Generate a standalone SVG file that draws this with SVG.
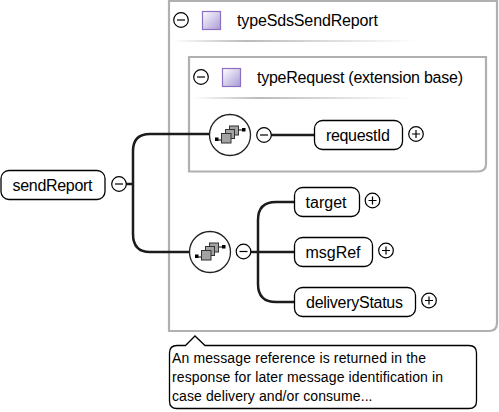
<svg xmlns="http://www.w3.org/2000/svg" width="499" height="412" viewBox="0 0 499 412">
<style>
text{font-family:"Liberation Sans",Arial,sans-serif;fill:#000}
.n{font-size:16px}
.c{font-size:14px}
.box{fill:#fff;stroke:#000;stroke-width:1.3}
.frame{fill:none;stroke:#b0b0b0;stroke-width:2.2}
.btn{fill:#fff;stroke:#000;stroke-width:1.2}
.sym{fill:none;stroke:#000;stroke-width:1.2}
.conn{fill:none;stroke:#1c1c1c;stroke-width:2.5}
.seq{fill:#fff;stroke:#222;stroke-width:1.3}
.sq{fill:#a3a3a3;stroke:#333;stroke-width:1}
.typ{fill:url(#tg);stroke:#8c6fc0;stroke-width:1.2}
</style>
<defs>
<linearGradient id="tg" x1="0" y1="0" x2="1" y2="1"><stop offset="0" stop-color="#fff"/><stop offset="1" stop-color="#a99ad6"/></linearGradient>
<linearGradient id="sh" x1="0" y1="0" x2="1" y2="0"><stop offset="0" stop-color="#fff"/><stop offset=".3" stop-color="#bbb"/><stop offset="1" stop-color="#fff"/></linearGradient>
<g id="minus"><circle r="7.3" class="btn"/><path d="M-4 0H4" class="sym"/></g>
<g id="plus"><circle r="7.3" class="btn"/><path d="M-4 0H4M0-4V4" class="sym"/></g>
<g id="seqIcon"><circle r="20.5" class="seq"/><path d="M-14 5H-9M8-5H13" stroke="#000" stroke-width="1.2"/><rect x="-15" y="2.500" width="3.500" height="3.500" fill="#000"/><rect x="12" y="-7" width="3.500" height="3.500" fill="#000"/><rect x="-0.500" y="-9" width="9" height="9" class="sq"/><rect x="-4.500" y="-5.500" width="9" height="9" class="sq"/><rect x="-8.500" y="-1.500" width="9.500" height="9.500" class="sq"/></g>
</defs>
<g id="frames">
<path d="M169 1H497V323Q497 331 489 331H169Z" class="frame"/>
<path d="M189 57H486V164Q486 171.500 478 171.500H189Z" class="frame"/>
<rect x="172" y="40" width="245" height="2" fill="url(#sh)"/>
<rect x="192" y="97" width="220" height="2" fill="url(#sh)"/>
</g>
<g id="connectors">
<path d="M126 184H133M150 134Q133 134 133 151V234Q133 252 150 252H190M150 134H210" class="conn"/>
<path d="M271 135H314" class="conn"/>
<path d="M250 252H258M276 202Q258 202 258 220V284Q258 302 276 302H294M276 202H294M258 252H294" class="conn"/>
</g>
<g id="typeSdsSendReport"><use href="#minus" x="181" y="20"/><rect x="202.500" y="11.500" width="18" height="18" class="typ"/><text x="237" y="26" class="n" textLength="141">typeSdsSendReport</text></g>
<g id="typeRequest"><use href="#minus" x="201" y="77"/><rect x="222.500" y="68.500" width="18" height="18" class="typ"/><text x="257" y="83" class="n" textLength="206">typeRequest (extension base)</text></g>
<g id="seq1"><use href="#seqIcon" x="230" y="135"/><use href="#minus" x="264" y="135"/></g>
<g id="seq2"><use href="#seqIcon" x="210" y="252"/><use href="#minus" x="243.500" y="251.500"/></g>
<g id="sendReport"><rect x="1" y="170.500" width="104" height="29" rx="8" class="box"/><text x="12.500" y="190.500" class="n" textLength="80">sendReport</text><use href="#minus" x="119" y="184"/></g>
<g id="requestId"><rect x="314.500" y="120.500" width="88" height="29" rx="8" class="box"/><text x="326" y="140.500" class="n" textLength="64">requestId</text><use href="#plus" x="416" y="134"/></g>
<g id="target"><rect x="294.500" y="187.500" width="65" height="29" rx="8" class="box"/><text x="305.500" y="207.500" class="n" textLength="41">target</text><use href="#plus" x="372.500" y="200.500"/></g>
<g id="msgRef"><rect x="294.500" y="237.500" width="78" height="29" rx="8" class="box"/><text x="305.500" y="257.500" class="n" textLength="55">msgRef</text><use href="#plus" x="386" y="250.500"/></g>
<g id="deliveryStatus"><rect x="294.500" y="287.500" width="121" height="29" rx="8" class="box"/><text x="306" y="307.500" class="n" textLength="97">deliveryStatus</text><use href="#plus" x="429" y="300.500"/></g>
<g id="note"><path d="M177 345.500H185.500L195 336L205 345.500H469Q476.500 345.500 476.500 353V401Q476.500 408.500 469 408.500H177Q169.500 408.500 169.500 401V353Q169.500 345.500 177 345.500Z" class="box"/>
<text x="172" y="363" class="c" textLength="254">An message reference is returned in the</text>
<text x="172" y="382" class="c" textLength="271">response for later message identification in</text>
<text x="172" y="401" class="c" textLength="200.500">case delivery and/or consume...</text></g>
</svg>
